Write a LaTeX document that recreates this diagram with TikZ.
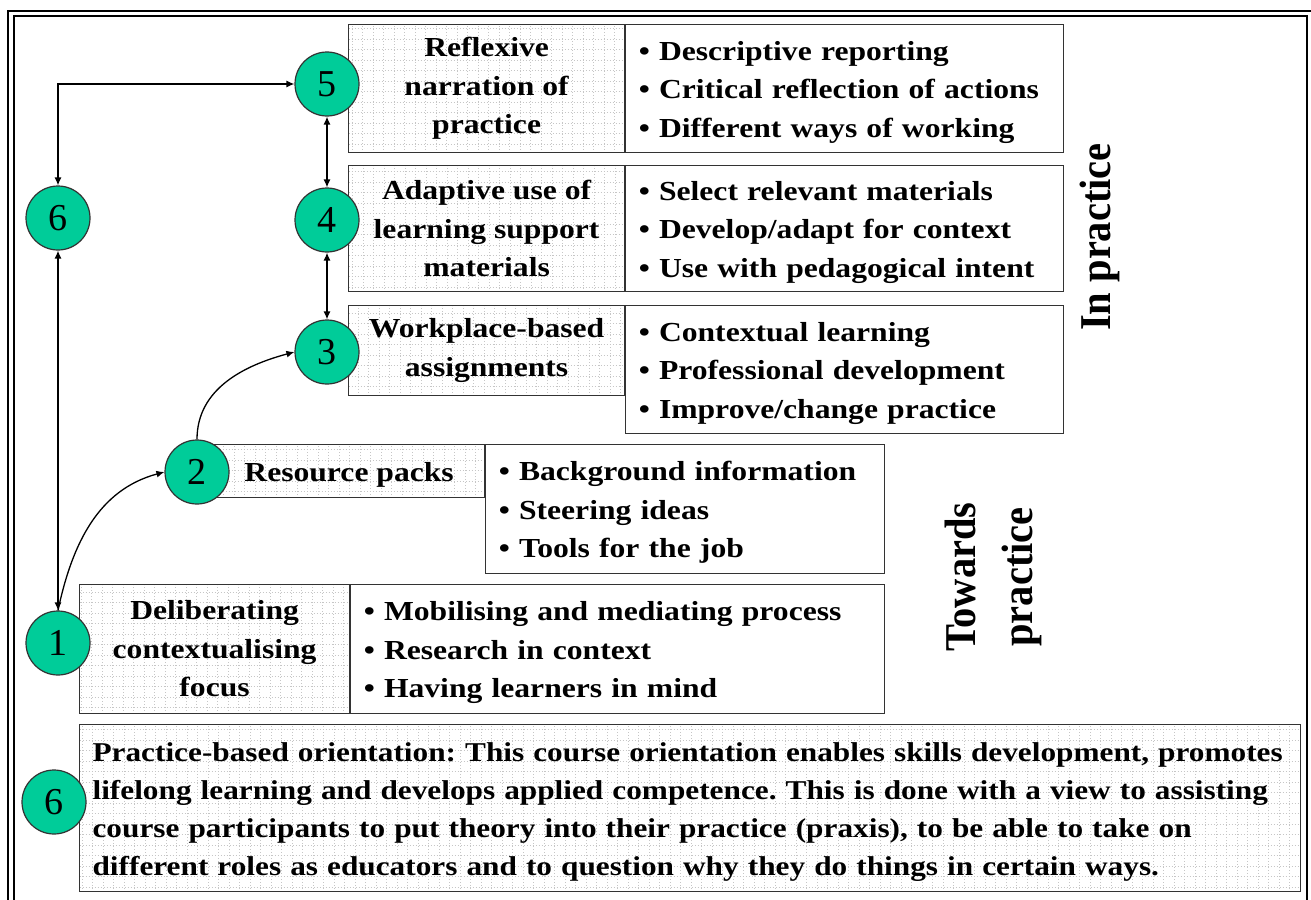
\documentclass[tikz,border=0pt]{standalone}
\usepackage{fontspec}
\setmainfont{Liberation Serif}[FakeStretch=1.15]
\newfontfamily\numfont{Liberation Serif}
\newfontfamily\sidefont{Liberation Serif}[FakeStretch=0.92]
\usetikzlibrary{arrows.meta, positioning}
\usepackage{xcolor}
\definecolor{stagegreen}{HTML}{00CC99}
\def\gridsep{10.5pt}
\frenchspacing

\begin{document}
\begin{tikzpicture}[x=1pt, y=-1pt, >={Latex[length=8pt,width=7pt]}]
    \tikzstyle{stage}=[circle, draw=black!80, line width=1.2pt, fill=stagegreen, minimum size=64pt, inner sep=0pt, font=\numfont\fontsize{38}{38}\selectfont]
    \tikzstyle{griddot}=[gray!45, line width=0.8pt, dash pattern=on 1pt off 2pt]
    \tikzstyle{panel}=[draw=black!80, line width=1.2pt, rectangle, inner sep=0pt, anchor=north west, font=\fontsize{27.5}{38.5}\selectfont\bfseries, execute at begin node={\rule{0pt}{26pt}}]
    \tikzstyle{title box}=[panel, align=center, path picture={\draw[griddot] (path picture bounding box.south west) grid[step=\gridsep] (path picture bounding box.north east);}]
    \tikzstyle{list box}=[panel, inner xsep=13pt, align=left]
    \tikzstyle{note box}=[title box, inner xsep=13pt, align=left, font=\fontsize{27.2}{38}\selectfont\bfseries]
    \tikzstyle{link}=[draw=black, line width=1.3pt]
    \tikzstyle{side}=[rotate=90, align=center, font=\sidefont\fontsize{44}{57}\selectfont\bfseries]

    \useasboundingbox (0,0) rectangle (1311,899);

    % double frame, open at the bottom
    \draw[line width=2.5pt] (8,910) |- (1320,11);
    \draw[line width=2pt] (14,910) |- (1307,16) -- (1307,910);

    % title boxes and their lists
    \node[title box, minimum width=276pt, minimum height=128pt] (T-5) at (348,24) {Reflexive\\narration of\\practice};
    \node[list box, text width=412pt, minimum height=128pt] (B-5) at (T-5.north east) {• Descriptive reporting\\• Critical reflection of actions\\• Different ways of working};

    \node[title box, minimum width=276pt, minimum height=126pt] (T-4) at (348,165) {Adaptive use of\\learning support\\materials};
    \node[list box, text width=412pt, minimum height=126pt] (B-4) at (T-4.north east) {• Select relevant materials\\• Develop/adapt for context\\• Use with pedagogical intent};

    \node[title box, minimum width=276pt, minimum height=90pt] (T-3) at (348,305) {Workplace-based\\assignments};
    \node[list box, text width=412pt, minimum height=128pt] (B-3) at (T-3.north east) {• Contextual learning\\• Professional development\\• Improve/change practice};

    \node[title box, minimum width=271pt, minimum height=53pt] (T-2) at (213,444) {Resource packs};
    \node[list box, text width=373pt, minimum height=129pt] (B-2) at (T-2.north east) {• Background information\\• Steering ideas\\• Tools for the job};

    \node[title box, minimum width=270pt, minimum height=129pt] (T-1) at (79,584) {Deliberating\\contextualising\\focus};
    \node[list box, text width=508pt, minimum height=129pt] (B-1) at (T-1.north east) {• Mobilising and mediating process\\• Research in context\\• Having learners in mind};

    \node[note box, text width=1195pt, minimum height=167pt] (N) at (79,724) {Practice-based orientation: This course orientation enables skills development, promotes\\lifelong learning and develops applied competence. This is done with a view to assisting\\course participants to put theory into their practice (praxis), to be able to take on\\different roles as educators and to question why they do things in certain ways.};

    % numbered stages
    \foreach \n/\x/\y in {1/58/643, 2/197/472, 3/327/352, 4/327/220, 5/327/84, 6/58/218}{
        \node[stage] (S-\n) at (\x,\y) {\n};
    }
    \node[stage] (S-6b) at (54,802) {6};

    \draw[link, <->] (S-6) -- (S-1);
    \draw[link, <->] (S-6.north) |- (S-5.west);
    \draw[link, <->] (S-5) -- (S-4);
    \draw[link, <->] (S-4) -- (S-3);
    \draw[link, ->] (S-1.north) to[out=78, in=195] (S-2.west);
    \draw[link, ->] (S-2.north) to[out=90, in=195] (S-3.west);

    \node[side] (inpractice) at (1100,237) {In practice};
    \node[side] (towards) at (993,577) {Towards\\practice};
\end{tikzpicture}
\end{document}
